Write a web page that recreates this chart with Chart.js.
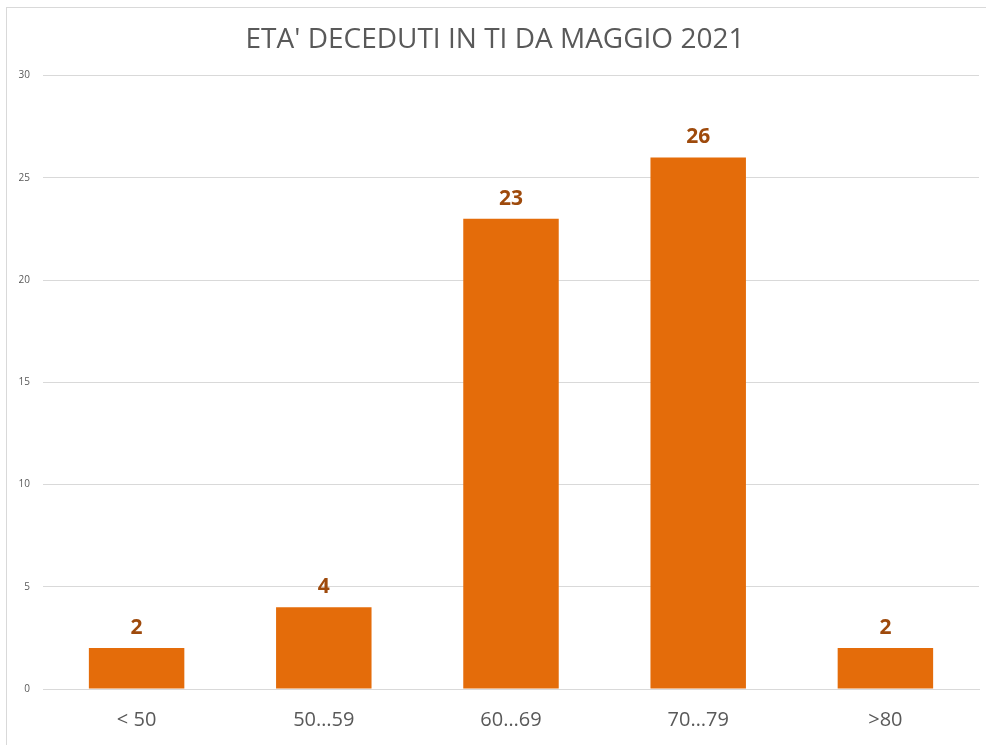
<!DOCTYPE html>
<html>
<head>
<meta charset="utf-8">
<script src="https://cdn.jsdelivr.net/npm/chart.js@4/dist/chart.umd.min.js"></script>
<style>
  html, body { margin: 0; padding: 0; background: #fff; overflow: hidden; }
  #frame { position: absolute; left: 6px; top: 7px; width: 990px; height: 750px;
           border-left: 1px solid #d9d9d9; border-top: 1px solid #d9d9d9; }
  #myChart { position: absolute; left: 0; top: 0; }
</style>
</head>
<body>
<div id="frame"></div>
<canvas id="myChart" width="986" height="745"></canvas>
<script>
// Data
var categories = ['< 50', '50\u202659', '60\u202669', '70\u202679', '>80'];
var deaths = [2, 4, 23, 26, 2];
var yTicks = [0, 5, 10, 15, 20, 25, 30];

// Value labels above bars
var barLabels = {
    id: 'barLabels',
    afterDatasetsDraw: function (chart) {
        var ctx = chart.ctx;
        var meta = chart.getDatasetMeta(0);
        ctx.save();
        ctx.font = 'bold 21px "Open Sans"';
        ctx.fillStyle = '#9E4A0C';
        ctx.textAlign = 'center';
        ctx.textBaseline = 'middle';
        meta.data.forEach(function (bar, i) {
            ctx.fillText(deaths[i], bar.x, bar.y - 20);
        });
        ctx.restore();
    }
};

new Chart("myChart", {
    type: "bar",
    data: {
        labels: categories,
        datasets: [{
            data: deaths,
            backgroundColor: "#E46C0A",
            categoryPercentage: 1,
            barPercentage: 0.51
        }]
    },
    options: {
        responsive: false,
        animation: false,
        layout: { padding: { left: 11, right: 7, top: 0, bottom: 0 } },
        plugins: {
            legend: { display: false },
            tooltip: { enabled: false },
            title: {
                display: true,
                text: "ETA' DECEDUTI IN TI DA MAGGIO 2021",
                color: '#595959',
                font: { family: 'Open Sans', size: 28, weight: 'normal' },
                padding: { top: 23, bottom: 19 }
            }
        },
        scales: {
            x: {
                afterFit: function (scale) { scale.height = 56; },
                grid: { display: false, drawTicks: false },
                border: { color: '#d9d9d9' },
                ticks: {
                    color: '#595959',
                    font: { family: 'Open Sans', size: 20 },
                    padding: 19
                }
            },
            y: {
                min: 0,
                max: 30,
                afterFit: function (scale) { scale.width = 32; },
                afterBuildTicks: function (scale) {
                    scale.ticks = yTicks.map(function (v) { return { value: v }; });
                },
                grid: { color: '#d9d9d9', drawTicks: false },
                border: { display: false },
                ticks: {
                    color: '#595959',
                    font: { family: 'Open Sans', size: 10 },
                    padding: 13
                }
            }
        }
    },
    plugins: [barLabels]
});
</script>
</body>
</html>
